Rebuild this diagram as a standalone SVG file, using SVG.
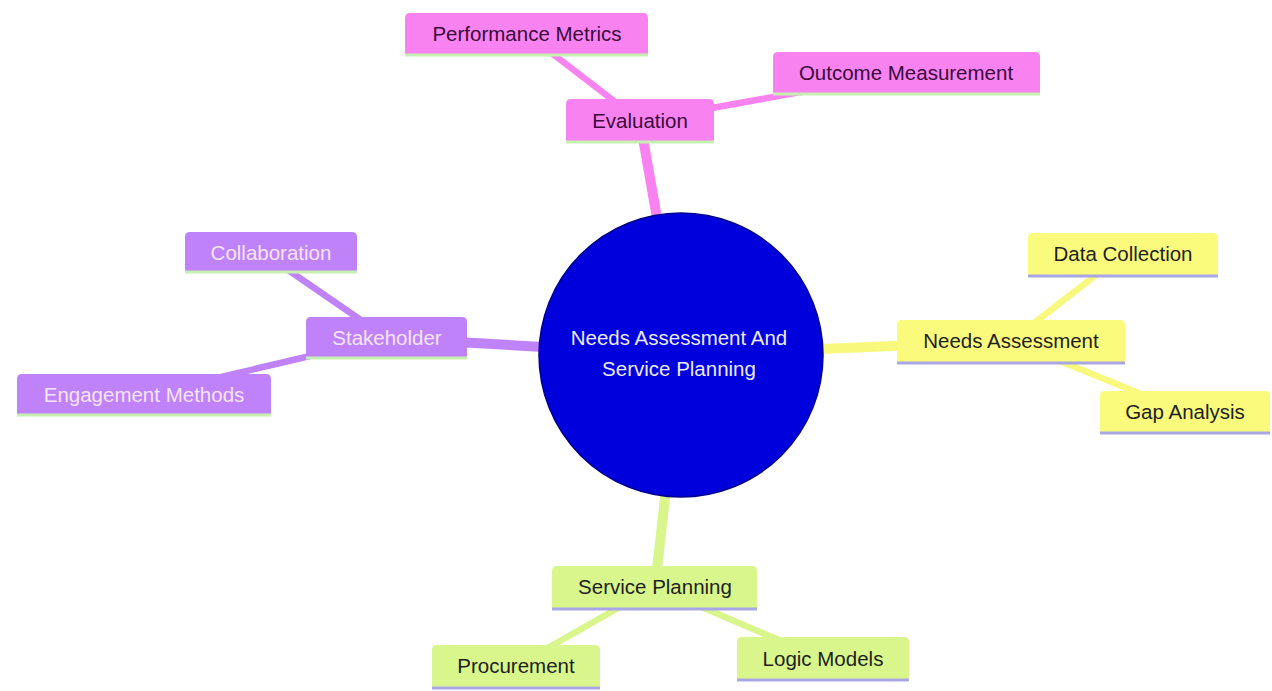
<svg xmlns="http://www.w3.org/2000/svg" width="1272" height="691" viewBox="0 0 1272 691">
<style>
text{font-family:"Liberation Sans",Arial,sans-serif;font-size:20.5px;text-anchor:middle}
.e path.b{fill:#f883f0}.e text{fill:#3a0a3a}
.s path.b{fill:#bf82f8}.s text{fill:#f6e4f8}
.n path.b{fill:#fafa7c}.n text{fill:#1e1e1e}
.p path.b{fill:#d8f68c}.p text{fill:#1e1e1e}
.gl{stroke:#c6f0b0;stroke-width:3}
.ll{stroke:#a8a6e6;stroke-width:3}
.ce{stroke:#f883f0}.cs{stroke:#c082f8}.cn{stroke:#f8f87c}.cp{stroke:#d8f68c}
.w1{stroke-width:10;stroke-linecap:butt}.w2{stroke-width:6.5}
</style>
<rect width="1272" height="691" fill="#ffffff"/>
<g id="connectors" fill="none">
<line class="ce w1" x1="640" y1="121" x2="681" y2="355"/>
<line class="ce w2" x1="527" y1="34" x2="640" y2="121"/>
<line class="ce w2" x1="906" y1="73" x2="640" y2="121"/>
<line class="cs w1" x1="387" y1="338" x2="681" y2="355"/>
<line class="cs w2" x1="262" y1="252" x2="387" y2="338"/>
<line class="cs w2" x1="144" y1="395" x2="387" y2="338"/>
<line class="cn w1" x1="1011" y1="341" x2="681" y2="355"/>
<line class="cn w2" x1="1123" y1="254" x2="1011" y2="341"/>
<line class="cn w2" x1="1185" y1="412" x2="1011" y2="341"/>
<line class="cp w1" x1="655" y1="587" x2="681" y2="355"/>
<line class="cp w2" x1="516" y1="666" x2="655" y2="587"/>
<line class="cp w2" x1="823" y1="659" x2="655" y2="587"/>
</g>
<g id="root">
<circle cx="681" cy="355" r="142" fill="#0000dc" stroke="#00008c" stroke-width="1.5"/>
<text x="679" y="345" fill="#eceaf8">Needs Assessment And</text>
<text x="679" y="376" fill="#eceaf8">Service Planning</text>
</g>
<g id="evaluation" class="e"><path class="b" d="M566,142V104Q566,99 571,99H709Q714,99 714,104V142Z"/><line class="gl" x1="566" y1="142" x2="714" y2="142"/><text x="640" y="128">Evaluation</text></g>
<g id="performance-metrics" class="e"><path class="b" d="M405,55V18Q405,13 410,13H643Q648,13 648,18V55Z"/><line class="gl" x1="405" y1="55" x2="648" y2="55"/><text x="527" y="41">Performance Metrics</text></g>
<g id="outcome-measurement" class="e"><path class="b" d="M773,94V57Q773,52 778,52H1035Q1040,52 1040,57V94Z"/><line class="gl" x1="773" y1="94" x2="1040" y2="94"/><text x="906" y="80">Outcome Measurement</text></g>
<g id="stakeholder" class="s"><path class="b" d="M306,358V322Q306,317 311,317H462Q467,317 467,322V358Z"/><line class="gl" x1="306" y1="358" x2="467" y2="358"/><text x="387" y="345">Stakeholder</text></g>
<g id="collaboration" class="s"><path class="b" d="M185,272V237Q185,232 190,232H352Q357,232 357,237V272Z"/><line class="gl" x1="185" y1="272" x2="357" y2="272"/><text x="271" y="260">Collaboration</text></g>
<g id="engagement-methods" class="s"><path class="b" d="M17,415V379Q17,374 22,374H266Q271,374 271,379V415Z"/><line class="gl" x1="17" y1="415" x2="271" y2="415"/><text x="144" y="402">Engagement Methods</text></g>
<g id="needs-assessment" class="n"><path class="b" d="M897,363V325Q897,320 902,320H1120Q1125,320 1125,325V363Z"/><line class="ll" x1="897" y1="363" x2="1125" y2="363"/><text x="1011" y="348">Needs Assessment</text></g>
<g id="data-collection" class="n"><path class="b" d="M1028,276V238Q1028,233 1033,233H1213Q1218,233 1218,238V276Z"/><line class="ll" x1="1028" y1="276" x2="1218" y2="276"/><text x="1123" y="261">Data Collection</text></g>
<g id="gap-analysis" class="n"><path class="b" d="M1100,433V396Q1100,391 1105,391H1265Q1270,391 1270,396V433Z"/><line class="ll" x1="1100" y1="433" x2="1270" y2="433"/><text x="1185" y="419">Gap Analysis</text></g>
<g id="service-planning" class="p"><path class="b" d="M552,609V571Q552,566 557,566H752Q757,566 757,571V609Z"/><line class="ll" x1="552" y1="609" x2="757" y2="609"/><text x="655" y="594">Service Planning</text></g>
<g id="procurement" class="p"><path class="b" d="M432,688V650Q432,645 437,645H595Q600,645 600,650V688Z"/><line class="ll" x1="432" y1="688" x2="600" y2="688"/><text x="516" y="673">Procurement</text></g>
<g id="logic-models" class="p"><path class="b" d="M737,680V642Q737,637 742,637H904Q909,637 909,642V680Z"/><line class="ll" x1="737" y1="680" x2="909" y2="680"/><text x="823" y="666">Logic Models</text></g>
</svg>
